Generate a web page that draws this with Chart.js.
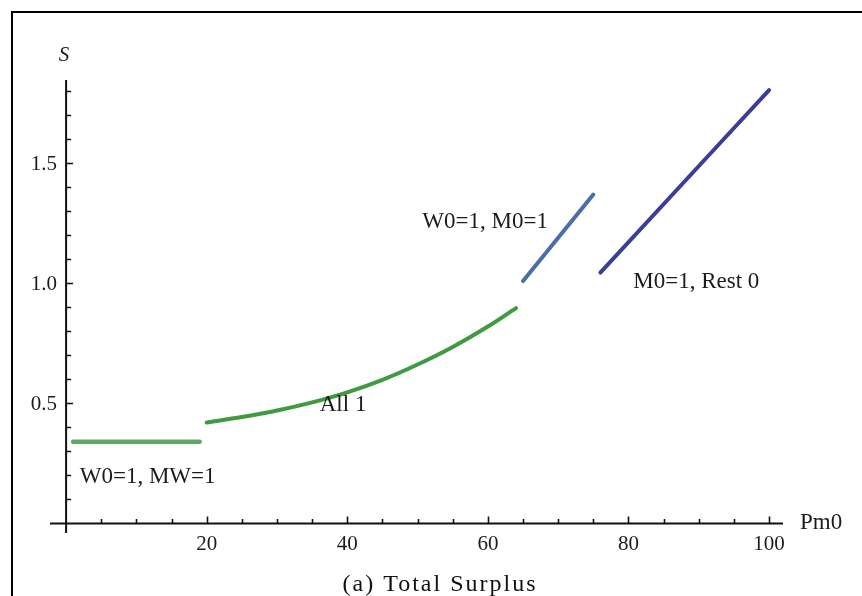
<!DOCTYPE html>
<html lang="en">

<head>
  <meta charset="UTF-8" />
  <meta name="viewport" content="width=device-width, initial-scale=1.0" />
  <title>Total Surplus</title>
  <script src="https://cdn.jsdelivr.net/npm/chart.js"></script>
  <style>
    html,
    body {
      margin: 0;
      padding: 0;
      background-color: #fff;
      overflow: hidden;
    }

    #surplusChart {
      display: block;
    }
  </style>
</head>

<body>
  <canvas id="surplusChart" width="862" height="596"></canvas>

  <script>
    // Regimes along Pm0, each one a separate piece of S
    const flatX = [1, 19];
    const flatS = [0.34, 0.34];

    const allOneX = [20, 25, 30, 35, 40, 45, 50, 55, 60, 64];
    const allOneS = [0.42, 0.443, 0.47, 0.504, 0.546, 0.598, 0.662, 0.735, 0.82, 0.897];

    const w0m0X = [65, 75];
    const w0m0S = [1.01, 1.37];

    const m0RestX = [76, 100];
    const m0RestS = [1.045, 1.805];

    // Axis labelling
    const xTickLabels = [20, 40, 60, 80, 100];
    const yTickLabels = ['0.5', '1.0', '1.5'];
    const xMinorStep = 5;
    const yMinorStep = 0.1;

    const regionLabels = [
      { text: 'W0=1, MW=1', x: 11.6, y: 0.193 },
      { text: 'All 1', x: 39.4, y: 0.493 },
      { text: 'W0=1, M0=1', x: 59.6, y: 1.257 },
      { text: 'M0=1, Rest 0', x: 89.65, y: 1.007 }
    ];

    const toPoints = (xs, ys) => xs.map((x, i) => ({ x: x, y: ys[i] }));

    const segment = (xs, ys, color, width) => ({
      data: toPoints(xs, ys),
      showLine: true,
      borderColor: color,
      borderWidth: width,
      borderCapStyle: 'round',
      pointRadius: 0,
      cubicInterpolationMode: 'monotone',
      fill: false
    });

    const serif = '"Liberation Serif", "Times New Roman", serif';
    const ink = '#1c1c1c';

    // Mathematica-style axes crossing at the origin, plus frame, labels and caption
    const axesPlugin = {
      id: 'axesPlugin',
      beforeDatasetsDraw(chart) {
        const { ctx, chartArea, scales } = chart;
        const xs = scales.x, ys = scales.y;
        const x0 = xs.getPixelForValue(0);
        const y0 = ys.getPixelForValue(0);

        ctx.save();
        // figure frame
        ctx.strokeStyle = '#000';
        ctx.lineWidth = 2;
        ctx.beginPath();
        ctx.moveTo(12, 596);
        ctx.lineTo(12, 12);
        ctx.lineTo(862, 12);
        ctx.stroke();

        // axis lines
        ctx.strokeStyle = '#111';
        ctx.lineWidth = 2;
        ctx.beginPath();
        ctx.moveTo(chartArea.left, y0);
        ctx.lineTo(chartArea.right, y0);
        ctx.moveTo(x0, chartArea.bottom);
        ctx.lineTo(x0, chartArea.top);
        ctx.stroke();

        // tick marks point into the plot
        ctx.lineWidth = 1.6;
        ctx.beginPath();
        for (let v = xMinorStep; v <= xs.max + 1e-9; v += xMinorStep) {
          const px = Math.round(xs.getPixelForValue(v)) + 0.5;
          const len = xTickLabels.includes(Math.round(v)) ? 7 : 4.5;
          ctx.moveTo(px, y0);
          ctx.lineTo(px, y0 - len);
        }
        for (let i = 1; i * yMinorStep <= ys.max + 1e-9; i++) {
          const v = i * yMinorStep;
          const py = Math.round(ys.getPixelForValue(v)) + 0.5;
          const len = (i % 5 === 0) ? 7 : 5;
          ctx.moveTo(x0, py);
          ctx.lineTo(x0 + len, py);
        }
        ctx.stroke();

        // tick labels
        ctx.fillStyle = ink;
        ctx.font = '21px ' + serif;
        ctx.textBaseline = 'middle';
        ctx.textAlign = 'center';
        xTickLabels.forEach(v => {
          ctx.fillText(String(v), xs.getPixelForValue(v), y0 + 21);
        });
        ctx.textAlign = 'right';
        yTickLabels.forEach(v => {
          ctx.fillText(v, x0 - 9, ys.getPixelForValue(parseFloat(v)) + 1);
        });

        // axis names
        ctx.font = '23px ' + serif;
        ctx.textAlign = 'left';
        ctx.fillText('Pm0', chartArea.right + 17, y0);
        ctx.font = 'italic 21px ' + serif;
        ctx.textAlign = 'center';
        ctx.fillText('S', x0 - 2, chartArea.top - 25);
        ctx.restore();
      },
      afterDatasetsDraw(chart) {
        const { ctx, scales } = chart;
        ctx.save();
        ctx.fillStyle = ink;
        ctx.font = '23px ' + serif;
        ctx.textAlign = 'center';
        ctx.textBaseline = 'middle';
        regionLabels.forEach(l => {
          ctx.fillText(l.text, scales.x.getPixelForValue(l.x), scales.y.getPixelForValue(l.y));
        });

        // caption under the plot
        ctx.font = '24px ' + serif;
        ctx.letterSpacing = '2px';
        ctx.textBaseline = 'alphabetic';
        ctx.fillStyle = '#111';
        ctx.fillText('(a) Total Surplus', 440, 591);
        ctx.restore();
      }
    };

    const ctx = document.getElementById('surplusChart').getContext('2d');

    const config = {
      type: 'scatter',
      data: {
        datasets: [
          segment(flatX, flatS, '#5da862', 4.5),
          segment(allOneX, allOneS, '#3f9a42', 4),
          segment(w0m0X, w0m0S, '#4a6ea8', 4),
          segment(m0RestX, m0RestS, '#3b3d96', 4)
        ]
      },
      options: {
        responsive: false,
        animation: false,
        layout: {
          padding: { left: 50, right: 79, top: 80, bottom: 63 }
        },
        scales: {
          x: { type: 'linear', display: false, min: -2.29, max: 101.98 },
          y: { type: 'linear', display: false, min: -0.04, max: 1.847 }
        },
        plugins: {
          legend: { display: false },
          tooltip: { enabled: false }
        }
      },
      plugins: [axesPlugin]
    };

    const surplusChart = new Chart(ctx, config);
  </script>
</body>

</html>
